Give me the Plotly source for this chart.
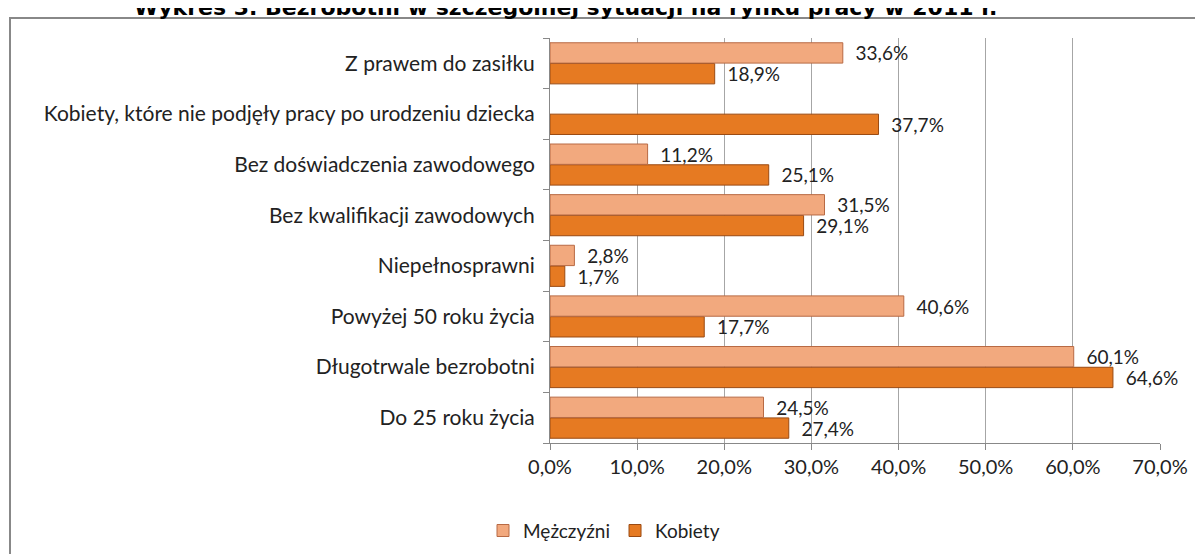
import plotly.graph_objects as go

categories = [
    "Do 25 roku życia",
    "Długotrwale bezrobotni",
    "Powyżej 50 roku życia",
    "Niepełnosprawni",
    "Bez kwalifikacji zawodowych",
    "Bez doświadczenia zawodowego",
    "Kobiety, które nie podjęły pracy po urodzeniu dziecka",
    "Z prawem do zasiłku",
]
men = [24.5, 60.1, 40.6, 2.8, 31.5, 11.2, None, 33.6]
women = [27.4, 64.6, 17.7, 1.7, 29.1, 25.1, 37.7, 18.9]
x_ticks = [0, 10, 20, 30, 40, 50, 60, 70]
x_tick_text = ["0,0%", "10,0%", "20,0%", "30,0%", "40,0%", "50,0%", "60,0%", "70,0%"]
title = "Wykres 3. Bezrobotni w szczególnej sytuacji na rynku pracy w 2011 r."

font = "Lato"
L, T, PW, PH = 542, 30, 610, 407

fig = go.Figure()
fig.add_trace(go.Bar(
    y=categories, x=women, orientation="h", name="Kobiety",
    marker=dict(color="#E67A22", line=dict(color="#9A4A12", width=1)),
    texttemplate="\u00a0\u00a0%{x:.1f}%", textposition="outside", constraintext="none",
    textfont=dict(family=font, size=19, color="#222"),
    cliponaxis=False, legendrank=2,
))
fig.add_trace(go.Bar(
    y=categories, x=men, orientation="h", name="Mężczyźni",
    marker=dict(color="#F2A97E", line=dict(color="#B86A44", width=1)),
    texttemplate="\u00a0\u00a0%{x:.1f}%", textposition="outside", constraintext="none",
    textfont=dict(family=font, size=19, color="#222"),
    cliponaxis=False, legendrank=1,
))

fig.update_layout(
    width=1203, height=554,
    margin=dict(l=L, r=1203 - L - PW, t=T, b=554 - T - PH),
    paper_bgcolor="white", plot_bgcolor="white",
    barmode="group", bargap=0.18, bargroupgap=0.02,
    separators=", ",
    font=dict(family=font, size=21, color="#222"),
    showlegend=True,
    legend=dict(orientation="h", x=(604 - 8 - L) / PW, xanchor="center",
                y=-(514 - 8 - T - PH) / PH, yanchor="top",
                font=dict(family=font, size=19), itemwidth=30,
                traceorder="normal"),
    xaxis=dict(
        range=[0, 70], tickvals=x_ticks, ticktext=x_tick_text,
        showgrid=True, gridcolor="#A6A6A6", gridwidth=1,
        showline=True, linecolor="#888", ticks="outside", ticklen=6, tickcolor="#888",
        tickfont=dict(family=font, size=20), zeroline=False,
    ),
    yaxis=dict(
        categoryorder="array", categoryarray=categories,
        showline=True, linecolor="#888", ticks="outside", ticklen=6, tickcolor="#888",
        tickson="boundaries", ticklabelstandoff=10,
        tickfont=dict(family=font, size=21), showgrid=False,
    ),
    shapes=[dict(type="rect", xref="paper", yref="paper",
                 x0=(2 - L) / PW, x1=1.2, y0=-0.5, y1=1 + (T - 10) / PH,
                 line=dict(color="#888", width=2), fillcolor="rgba(0,0,0,0)", layer="below")],
    annotations=[dict(text="<b>" + title + "</b>", xref="paper", yref="paper",
                      x=(565 - 8 - L) / PW, xanchor="center",
                      y=1 + (T + 1) / PH, yanchor="middle", showarrow=False,
                      font=dict(family="DejaVu Sans", size=22, color="black"))],
)

fig.write_html("out.html")
